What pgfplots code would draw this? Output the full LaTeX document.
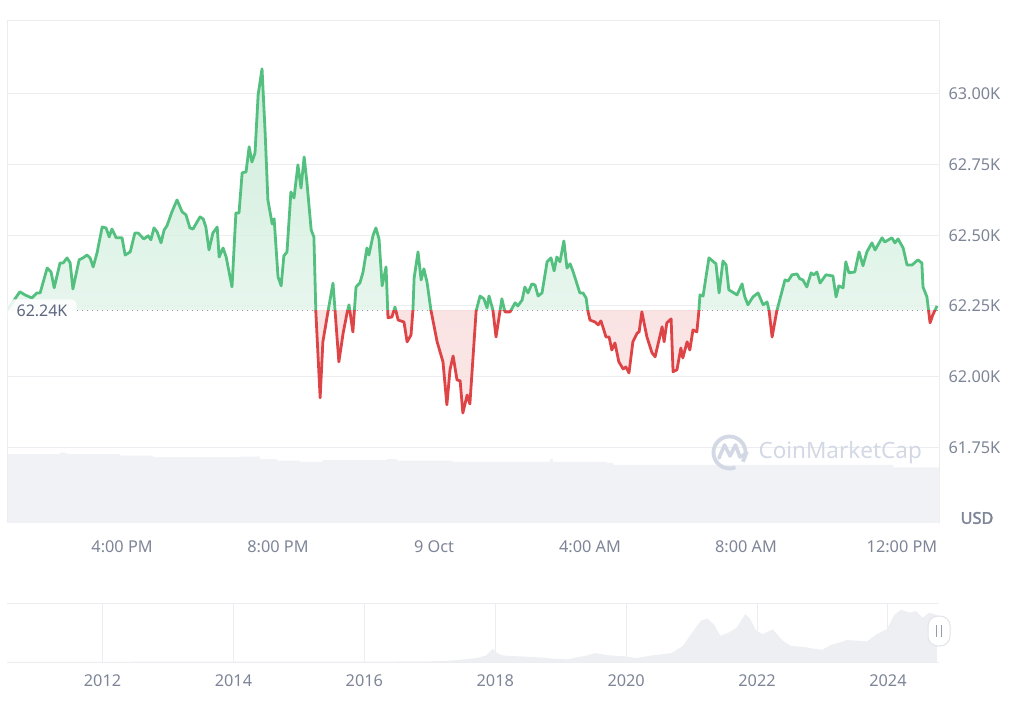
\documentclass[border=0pt]{standalone}
\usepackage{fontspec}
\setmainfont{Noto Sans}
\newfontfamily\usdfont{Noto Sans}[FakeBold=2.2]
\usepackage{pgfplots}
\pgfplotsset{compat=1.18}
\usepackage{pgfplotstable}

\definecolor{upgreen}{RGB}{84,192,128}
\definecolor{downred}{RGB}{222,68,70}
\definecolor{gridc}{RGB}{236,237,240}
\definecolor{labc}{RGB}{125,133,151}
\definecolor{volc}{RGB}{241,242,246}
\definecolor{navc}{RGB}{238,239,243}
\definecolor{wmark}{RGB}{211,216,229}
\definecolor{boxtext}{RGB}{92,102,126}
\definecolor{handlec}{RGB}{150,156,172}
\definecolor{handleb}{RGB}{226,228,234}

% hours from 9 Oct 00:00 ; price in thousand USD
\pgfplotstableread{
h p
-10.94 62.236
-10.62 62.300
-10.49 62.289
-10.31 62.278
-10.18 62.296
-10.10 62.296
-9.92 62.384
-9.82 62.370
-9.74 62.314
-9.59 62.402
-9.51 62.402
-9.41 62.420
-9.33 62.402
-9.26 62.310
-9.10 62.413
-9.00 62.420
-8.90 62.430
-8.82 62.420
-8.74 62.388
-8.64 62.438
-8.51 62.529
-8.41 62.526
-8.33 62.494
-8.26 62.522
-8.15 62.491
-8.00 62.491
-7.92 62.430
-7.79 62.441
-7.67 62.508
-7.59 62.508
-7.44 62.487
-7.33 62.498
-7.26 62.484
-7.18 62.526
-7.10 62.512
-7.00 62.473
-6.92 62.519
-6.85 62.533
-6.72 62.583
-6.59 62.625
-6.46 62.583
-6.36 62.572
-6.26 62.526
-6.18 62.522
-6.00 62.565
-5.92 62.558
-5.85 62.529
-5.77 62.448
-5.67 62.508
-5.56 62.529
-5.51 62.423
-5.41 62.455
-5.33 62.423
-5.18 62.317
-5.08 62.579
-5.00 62.579
-4.92 62.721
-4.82 62.724
-4.74 62.813
-4.67 62.759
-4.59 62.791
-4.51 62.997
-4.41 63.089
-4.33 62.862
-4.26 62.625
-4.15 62.540
-4.10 62.558
-4.00 62.353
-3.92 62.321
-3.85 62.427
-3.77 62.441
-3.67 62.653
-3.59 62.632
-3.49 62.749
-3.41 62.667
-3.33 62.777
-3.26 62.689
-3.15 62.519
-3.08 62.494
-3.03 62.229
-2.92 61.925
-2.85 62.123
-2.72 62.229
-2.59 62.331
-2.44 62.052
-2.33 62.154
-2.23 62.225
-2.18 62.254
-2.08 62.158
-2.00 62.317
-1.90 62.331
-1.82 62.370
-1.72 62.455
-1.67 62.430
-1.56 62.501
-1.49 62.526
-1.41 62.487
-1.33 62.321
-1.23 62.388
-1.18 62.208
-1.08 62.211
-1.00 62.246
-0.92 62.200
-0.77 62.193
-0.69 62.123
-0.59 62.147
-0.54 62.236
-0.51 62.349
-0.41 62.441
-0.33 62.342
-0.26 62.381
-0.18 62.335
-0.08 62.236
0.08 62.123
0.23 62.052
0.33 61.900
0.41 62.024
0.49 62.073
0.59 61.988
0.67 61.985
0.74 61.871
0.85 61.935
0.92 61.903
1.08 62.232
1.18 62.285
1.28 62.275
1.36 62.243
1.41 62.285
1.51 62.236
1.59 62.140
1.74 62.275
1.82 62.229
1.95 62.229
2.08 62.261
2.15 62.250
2.26 62.271
2.33 62.317
2.41 62.296
2.51 62.328
2.59 62.324
2.67 62.285
2.77 62.296
2.90 62.406
3.00 62.420
3.08 62.374
3.15 62.423
3.23 62.406
3.33 62.480
3.41 62.384
3.49 62.399
3.56 62.374
3.74 62.296
3.82 62.296
3.90 62.278
3.95 62.229
4.00 62.200
4.13 62.193
4.21 62.183
4.28 62.197
4.33 62.176
4.41 62.140
4.49 62.140
4.56 62.094
4.64 62.119
4.74 62.052
4.85 62.027
4.92 62.034
5.00 62.013
5.10 62.123
5.21 62.154
5.26 62.158
5.33 62.229
5.46 62.140
5.59 62.084
5.67 62.070
5.74 62.112
5.85 62.176
5.90 62.123
5.97 62.190
6.08 62.204
6.13 62.017
6.23 62.024
6.33 62.101
6.38 62.066
6.49 62.123
6.56 62.094
6.64 62.165
6.74 62.158
6.79 62.229
6.82 62.289
6.90 62.285
7.05 62.420
7.23 62.399
7.31 62.296
7.41 62.409
7.49 62.395
7.56 62.307
7.77 62.289
7.90 62.328
7.97 62.282
8.05 62.254
8.18 62.282
8.31 62.296
8.44 62.254
8.54 62.264
8.59 62.236
8.67 62.140
8.79 62.232
9.00 62.342
9.08 62.338
9.18 62.360
9.31 62.363
9.38 62.346
9.46 62.342
9.56 62.317
9.67 62.367
9.74 62.360
9.82 62.370
9.90 62.331
10.05 62.360
10.23 62.356
10.31 62.282
10.38 62.321
10.49 62.314
10.56 62.406
10.64 62.367
10.79 62.370
10.90 62.441
11.00 62.392
11.10 62.441
11.23 62.473
11.31 62.448
11.49 62.491
11.56 62.476
11.74 62.491
11.82 62.473
11.90 62.487
12.03 62.455
12.13 62.395
12.26 62.395
12.41 62.413
12.51 62.402
12.54 62.317
12.64 62.282
12.72 62.190
12.79 62.218
12.90 62.250
}\pricedata

% volume (relative units, 100 = full plot height)
\pgfplotstableread{
h v
-10.95 13.7
-9.59 14.0
-9.41 13.7
-8.05 13.4
-7.21 13.1
-4.97 13.2
-4.46 12.7
-4.03 12.4
-3.44 12.2
-2.85 12.5
-1.21 12.7
-0.95 12.4
0.49 12.2
2.97 12.7
3.05 12.2
4.44 12.0
4.59 11.6
11.77 11.1
12.95 11.1
}\voldata

% long-term price, thousand USD
\pgfplotstableread{
y p
2010.54 0.0
2013.9 0.6
2014.5 0.4
2016.0 0.4
2016.9 0.9
2017.21 1.2
2017.40 2.5
2017.71 5.3
2017.86 8.9
2017.96 17.8
2018.03 12.0
2018.11 8.9
2018.30 8.0
2018.60 6.7
2018.90 4.4
2019.10 3.6
2019.40 8.9
2019.52 12.0
2019.75 8.9
2020.00 7.6
2020.15 5.3
2020.40 8.9
2020.69 12.0
2020.87 22.0
2020.99 37.8
2021.14 56.0
2021.24 59.0
2021.34 51.0
2021.44 35.6
2021.57 40.0
2021.69 46.7
2021.82 65.0
2021.89 59.0
2021.99 42.0
2022.09 37.8
2022.24 44.4
2022.39 29.0
2022.51 22.0
2022.74 20.0
2022.99 16.4
2023.13 23.0
2023.38 29.8
2023.68 28.0
2023.83 37.8
2023.98 44.4
2024.10 64.0
2024.20 71.0
2024.33 67.0
2024.43 69.0
2024.53 60.0
2024.63 67.0
2024.75 63.6
}\navdata

\begin{document}
\begin{tikzpicture}[x=1pt,y=1pt]
\useasboundingbox (0,0) rectangle (1024,709);

% volume
\begin{axis}[at={(7pt,186pt)}, anchor=south west, scale only axis,
  width=932pt, height=502pt, xmin=-10.95, xmax=12.95, ymin=0, ymax=100, hide axis]
\addplot[const plot, fill=volc, draw=none] table {\voldata} \closedcycle;
\end{axis}

% price grid, labels, reference line
\begin{axis}[at={(7pt,186pt)}, anchor=south west, scale only axis,
  width=932pt, height=502pt,
  xmin=-10.95, xmax=12.95, ymin=61.482, ymax=63.258,
  axis line style={draw=none}, major tick length=0pt,
  ytick={61.75,62,62.25,62.5,62.75,63},
  yticklabels={61.75K,62.00K,62.25K,62.50K,62.75K,63.00K},
  yticklabel pos=right, ymajorgrids, grid style={gridc, line width=1pt},
  xtick={-8,-4,0,4,8,12},
  xticklabels={4:00 PM,8:00 PM,9 Oct,4:00 AM,8:00 AM,12:00 PM},
  tick label style={font=\fontsize{16.3}{19}\selectfont, text=labc},
  yticklabel style={anchor=west, xshift=6pt},
  xticklabel style={yshift=-14pt},
]
\addplot[labc, line width=1.3pt, dash pattern=on 1.3pt off 3.7pt]
  coordinates {(-10.95,62.235) (12.95,62.235)};
\end{axis}

% above the reference price (green), values relative to 62.235K
\begin{axis}[at={(7pt,398.84pt)}, anchor=south west, scale only axis,
  width=932pt, height=289.16pt, xmin=-10.95, xmax=12.95, ymin=0, ymax=1.023, hide axis]
\addplot[draw=none, top color=upgreen!36!white, bottom color=upgreen!9!white, fill opacity=0.8]
  table[x=h, y expr=\thisrow{p}-62.235] {\pricedata} \closedcycle;
\addplot[upgreen, line width=2.8pt, line join=round]
  table[x=h, y expr=\thisrow{p}-62.235] {\pricedata};
\end{axis}

% below the reference price (red)
\begin{axis}[at={(7pt,186pt)}, anchor=south west, scale only axis,
  width=932pt, height=212.84pt, xmin=-10.95, xmax=12.95, ymin=-0.753, ymax=0, hide axis]
\addplot[draw=none, top color=downred!26!white, bottom color=downred!16!white, fill opacity=0.8]
  table[x=h, y expr=\thisrow{p}-62.235] {\pricedata} \closedcycle;
\addplot[downred, line width=2.8pt, line join=round]
  table[x=h, y expr=\thisrow{p}-62.235] {\pricedata};
\end{axis}

% navigator
\begin{axis}[at={(7pt,47pt)}, anchor=south west, scale only axis,
  width=932pt, height=59pt,
  xmin=2010.54, xmax=2024.78, ymin=0, ymax=80,
  axis line style={draw=none}, major tick length=0pt, ytick=\empty,
  xtick={2012,2014,...,2024},
  xticklabels={2012,2014,2016,2018,2020,2022,2024},
  xmajorgrids, grid style={gridc, line width=1pt},
  tick label style={font=\fontsize{16.3}{19}\selectfont, text=labc},
  xticklabel style={yshift=-9pt},
]
\addplot[fill=navc, draw=none] table {\navdata} \closedcycle;
\end{axis}

% frames
\draw[gridc, line width=1pt] (7,186) -- (7,688) -- (939,688) -- (939,186);
\draw[gridc, line width=1pt] (7,106) -- (939,106);
\draw[gridc, line width=0.8pt] (7,47) -- (939,47);

% current price label
\node[fill=white, fill opacity=0.85, text opacity=1, rounded corners=5pt,
  minimum width=69pt, minimum height=23pt, inner sep=0pt, text=boxtext,
  font=\fontsize{16}{19}\selectfont] at (42,398) {62.24K};

% USD
\node[font=\usdfont\fontsize{16.3}{19}\selectfont, text=labc] at (977,191) {USD};

% watermark
\draw[wmark, line width=3.8pt] (729.5,256.5) ++(-35:16) arc (-35:292:16);
\draw[wmark, line width=3.6pt, line join=round, line cap=round]
  (719,251) -- (724.5,264) -- (730,253) -- (735.5,264) -- (740,252) -- (747,256);
\node[anchor=west, text=wmark, font=\fontsize{22.5}{26}\selectfont] at (755,256) {CoinMarketCap};

% handle
\draw[fill=white, draw=handleb, line width=1pt, rounded corners=10pt] (928,63) rectangle (950,93);
\draw[handlec, line width=1.4pt] (936.5,72) -- (936.5,84) (941.5,72) -- (941.5,84);
\end{tikzpicture}
\end{document}
